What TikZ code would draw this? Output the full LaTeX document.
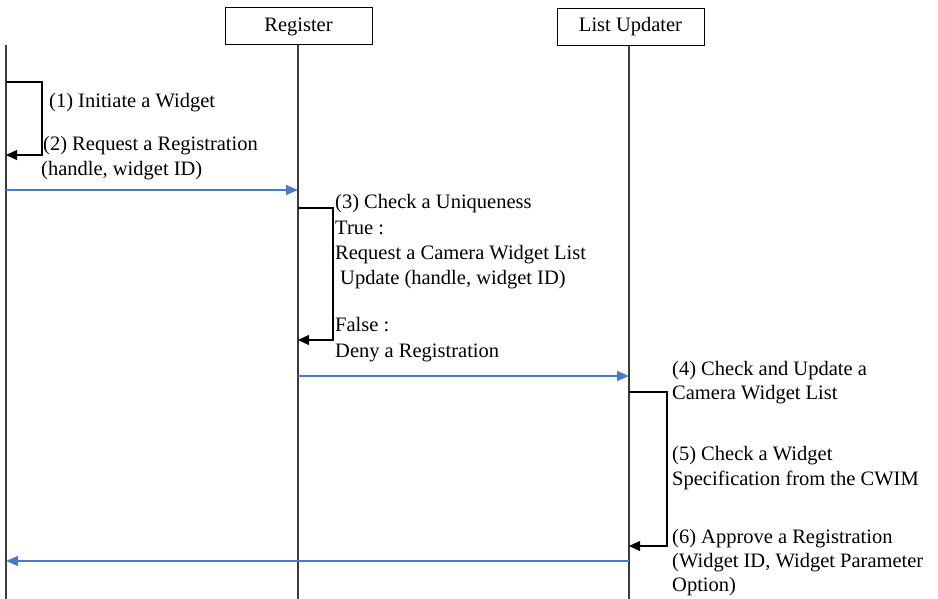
\documentclass[tikz,border=0pt]{standalone}
\usepackage{fontspec}
\setmainfont{Liberation Serif}
\usetikzlibrary{arrows.meta}
\definecolor{msgblue}{RGB}{72,122,200}
\definecolor{lifegray}{RGB}{60,60,60}
\begin{document}
\begin{tikzpicture}[x=1pt,y=-1pt,
  actor/.style={draw=black,line width=1pt,minimum width=147pt,minimum height=37pt,inner sep=0pt,font=\fontsize{20.5}{22}\selectfont},
  lifeline/.style={draw=lifegray,line width=1.2pt},
  selfloop/.style={draw=black,line width=1.2pt,-{Triangle[length=11pt,width=10pt]}},
  msg/.style={draw=msgblue,line width=1.1pt,-{Triangle[length=12pt,width=10pt]}},
  lbl/.style={anchor=base west,inner sep=0pt,font=\fontsize{20.5}{24}\selectfont}]
\useasboundingbox (0,0) rectangle (938,599);

% participants
\node[actor] (reg) at (298.5,26.5) {Register};
\node[actor] (upd) at (630.5,27) {List Updater};

% lifelines
\coordinate (w0) at (6,45);
\coordinate (w1) at (6,599);
\coordinate (r1) at (298,599);
\coordinate (u1) at (629,599);
\draw[lifeline] (w0) -- (w1);
\draw[lifeline] (reg.south -| r1) -- (r1);
\draw[lifeline] (upd.south -| u1) -- (u1);

% (1)-(2) self call on the widget side
\coordinate (a1) at (6,82);
\coordinate (a2) at (6,155);
\draw[selfloop] (a1) -- (42,82) -- (42,155) -- (a2);
\node[lbl] (t1) at (49,108) {(1) Initiate a Widget};
\node[lbl] (t2) at (43,151) {(2) Request a Registration};
\node[lbl] (t2b) at (41,176) {(handle, widget ID)};

% widget -> register
\coordinate (m1s) at (6,190);
\coordinate (m1e) at (298,190);
\draw[msg] (m1s) -- (m1e);

% (3) uniqueness check at the register
\coordinate (b1) at (298,208);
\coordinate (b2) at (298,340);
\draw[selfloop] (b1) -- (333,208) -- (333,340) -- (b2);
\node[lbl] (t3) at (335,208) {(3) Check a Uniqueness};
\node[lbl] (t3a) at (335,234) {True :};
\node[lbl] (t3b) at (335,259) {Request a Camera Widget List};
\node[lbl] (t3c) at (340,284) {Update (handle, widget ID)};
\node[lbl] (t3d) at (335,331) {False :};
\node[lbl] (t3e) at (335,357) {Deny a Registration};

% register -> list updater
\coordinate (m2s) at (298,376);
\coordinate (m2e) at (629,376);
\draw[msg] (m2s) -- (m2e);

% (4)-(6) list update at the list updater
\coordinate (c1) at (629,392);
\coordinate (c2) at (629,546);
\draw[selfloop] (c1) -- (667,392) -- (667,546) -- (c2);
\node[lbl] (t4) at (672,375) {(4) Check and Update a};
\node[lbl] (t4b) at (672,399) {Camera Widget List};
\node[lbl] (t5) at (672,460) {(5) Check a Widget};
\node[lbl] (t5b) at (672,485) {Specification from the CWIM};
\node[lbl] (t6) at (672,543) {(6) Approve a Registration};
\node[lbl] (t6b) at (672,567) {(Widget ID, Widget Parameter};
\node[lbl] (t6c) at (672,591) {Option)};

% list updater -> widget
\coordinate (m3s) at (629,561);
\coordinate (m3e) at (6,561);
\draw[msg] (m3s) -- (m3e);
\end{tikzpicture}
\end{document}
